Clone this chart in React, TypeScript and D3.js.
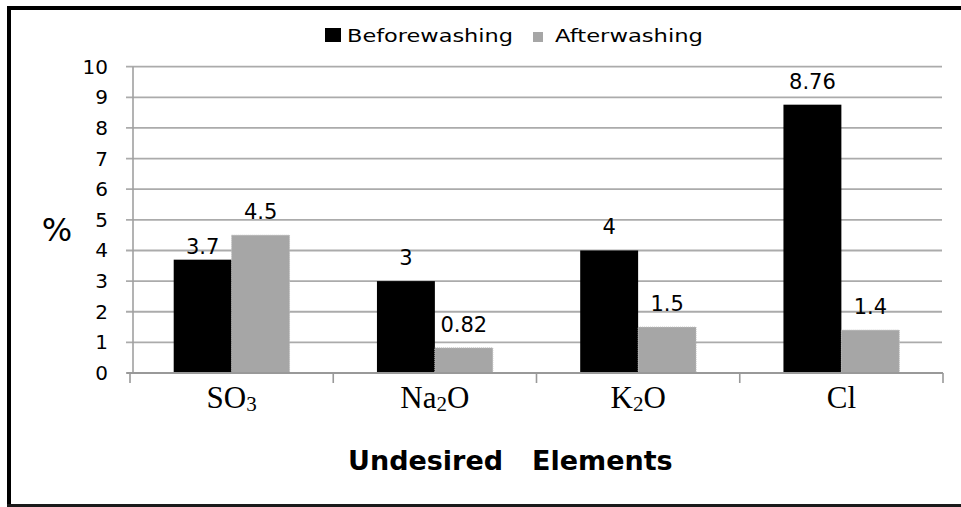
import React from "react";
import * as d3 from "d3";

const categories = ["SO3", "Na2O", "K2O", "Cl"];
const categoryMain = ["SO", "Na", "K", "Cl"];
const categorySub = ["3", "2", "2", ""];
const categoryTail = ["", "O", "O", ""];
const seriesNames = ["Beforewashing", "Afterwashing"];
const beforeWashing = [3.7, 3, 4, 8.76];
const afterWashing = [4.5, 0.82, 1.5, 1.4];
const yTicks = [0, 1, 2, 3, 4, 5, 6, 7, 8, 9, 10];
const seriesColors = ["#000000", "#a6a6a6"];

const W = 961;
const H = 507;
const plotLeft = 130;
const plotRight = 943;
const plotTop = 66.7;
const plotBottom = 373;

export default function App() {
  const x = d3
    .scaleBand<string>()
    .domain(categories)
    .range([plotLeft, plotRight])
    .paddingInner(0.43)
    .paddingOuter(0.215);
  const xs = d3.scaleBand<string>().domain(seriesNames).range([0, x.bandwidth()]);
  const y = d3.scaleLinear().domain([0, 10]).range([plotBottom, plotTop]);
  const step = (plotRight - plotLeft) / categories.length;
  const boundaries = d3.range(categories.length + 1).map((i) => plotLeft + i * step);
  const series = [beforeWashing, afterWashing];
  const fmt = (v: number) => String(v);
  // label gap above bar top (first label sits lower, as in the original)
  const labelGap = (ci: number, si: number) => (ci === 0 && si === 0 ? 6 : 16);

  return (
    <div style={{ position: "fixed", left: 0, top: 0 }}>
      <svg width={W} height={H} style={{ display: "block", background: "#ffffff" }}>
        <rect x={0} y={0} width={W} height={H} fill="#ffffff" />
        {/* frame */}
        <rect x={7} y={6} width={W - 7} height={4} fill="#000" />
        <rect x={7} y={6} width={4} height={H - 6} fill="#000" />
        <rect x={7} y={504} width={W - 7} height={3} fill="#1a1a1a" />

        {/* legend */}
        <rect x={325} y={28} width={16} height={14} fill={seriesColors[0]} />
        <text
          x={347}
          y={42}
          fontFamily="DejaVu Sans"
          fontSize={18}
          textLength={166}
          lengthAdjust="spacingAndGlyphs"
          fill="#000"
        >
          {seriesNames[0]}
        </text>
        <rect x={533} y={32} width={10} height={10} fill={seriesColors[1]} />
        <text
          x={555}
          y={42}
          fontFamily="DejaVu Sans"
          fontSize={18}
          textLength={148}
          lengthAdjust="spacingAndGlyphs"
          fill="#000"
        >
          {seriesNames[1]}
        </text>

        {/* gridlines */}
        {yTicks.map((t) => (
          <line
            key={"g" + t}
            x1={126}
            x2={942}
            y1={y(t)}
            y2={y(t)}
            stroke="#ababab"
            strokeWidth={1.8}
          />
        ))}
        {/* y axis */}
        <line x1={133} x2={133} y1={plotTop} y2={plotBottom} stroke="#a0a0a0" strokeWidth={1.6} />
        {yTicks.map((t) => (
          <text
            key={"yt" + t}
            x={108}
            y={y(t)}
            textAnchor="end"
            dominantBaseline="central"
            fontFamily="DejaVu Sans"
            fontSize={20}
            fill="#000"
          >
            {t}
          </text>
        ))}
        <text x={57} y={241} textAnchor="middle" fontFamily="DejaVu Sans" fontSize={32} fill="#000">
          %
        </text>

        {/* bars */}
        {categories.map((c, ci) =>
          series.map((vals, si) => {
            const bx = (x(c) as number) + (xs(seriesNames[si]) as number);
            const bw = xs.bandwidth();
            return (
              <g key={c + si}>
                <rect
                  x={bx}
                  y={y(vals[ci])}
                  width={bw}
                  height={y(0) - y(vals[ci])}
                  fill={seriesColors[si]}
                  stroke={si === 1 ? "#bcbcbc" : "none"}
                  strokeWidth={1}
                  strokeDasharray={si === 1 ? "1,1" : undefined}
                />
                <text
                  x={bx + bw / 2}
                  y={y(vals[ci]) - labelGap(ci, si)}
                  textAnchor="middle"
                  fontFamily="DejaVu Sans"
                  fontSize={21}
                  fill="#000"
                >
                  {fmt(vals[ci])}
                </text>
              </g>
            );
          })
        )}

        {/* x axis */}
        <line x1={127} x2={plotRight} y1={plotBottom} y2={plotBottom} stroke="#999" strokeWidth={1.8} />
        {boundaries.map((b, i) => (
          <line key={"xt" + i} x1={b} x2={b} y1={plotBottom} y2={383} stroke="#999" strokeWidth={1.6} />
        ))}
        {categories.map((c, ci) => (
          <text
            key={"xl" + c}
            x={(x(c) as number) + x.bandwidth() / 2}
            y={408}
            textAnchor="middle"
            fontFamily="Liberation Serif"
            fontSize={31}
            fill="#000"
          >
            {categoryMain[ci]}
            {categorySub[ci] ? (
              <tspan fontSize={21} dy={3}>
                {categorySub[ci]}
              </tspan>
            ) : null}
            {categoryTail[ci] ? <tspan dy={-3}>{categoryTail[ci]}</tspan> : null}
          </text>
        ))}

        {/* axis title */}
        <text x={348} y={470} fontFamily="DejaVu Sans" fontWeight="bold" fontSize={27} fill="#000">
          Undesired
        </text>
        <text x={532} y={470} fontFamily="DejaVu Sans" fontWeight="bold" fontSize={27} fill="#000">
          Elements
        </text>
      </svg>
    </div>
  );
}
